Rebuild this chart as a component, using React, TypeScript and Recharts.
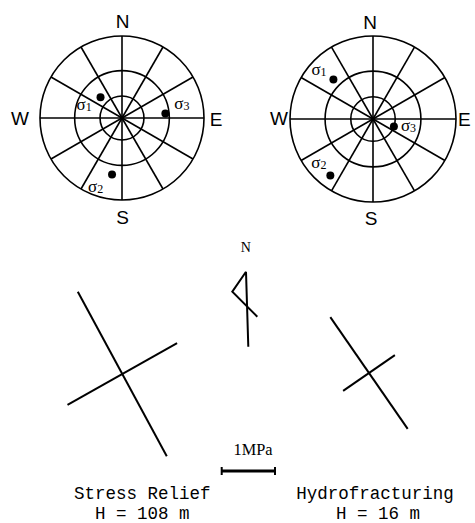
import { RadarChart, PolarGrid, PolarAngleAxis, PolarRadiusAxis, Radar, ScatterChart, Scatter, XAxis, YAxis } from "recharts";

// principal stress orientations (trend / plunge in degrees), order: sigma1, sigma2, sigma3
const SIGMA_NAMES = ["1", "2", "3"];
const RELIEF_TREND = [314, 190, 84];
const RELIEF_PLUNGE = [50, 20, 34];
const HYDRO_TREND = [315, 217, 110];
const HYDRO_PLUNGE = [22, 9, 60];

// horizontal stresses drawn below: azimuth (deg) and magnitude (MPa)
const RELIEF_AZ = [151.6, 60.6];
const RELIEF_MPA = [3.51, 2.36];
const HYDRO_AZ = [145.3, 55.4];
const HYDRO_MPA = [2.55, 1.18];

const SPOKES = [0, 30, 60, 90, 120, 150, 180, 210, 240, 270, 300, 330];
const RINGS = [30, 60, 90]; // angular distance from centre

const PX_PER_MPA = 53.3;
const BOTTOM_W = 475;
const BOTTOM_H = 293;

const rad = (d: number) => (d * Math.PI) / 180;
// wulff (stereographic) projection, 0..1 of net radius
const wulff = (plunge: number) => Math.tan(rad((90 - plunge) / 2));

function makeDot(offsets: number[][]) {
  return (props: any) => {
    const { cx, cy, index } = props;
    const [dx, dy] = offsets[index];
    return (
      <g key={`dot-${index}`}>
        <circle cx={cx} cy={cy} r={4} fill="#000" />
        <text x={cx + dx} y={cy + dy} fontFamily="Liberation Serif" fontSize={17} fill="#000">
          σ<tspan fontSize={12} dy={1}>{SIGMA_NAMES[index]}</tspan>
        </text>
      </g>
    );
  };
}

function Stereonet(p: any) {
  const data = p.trends.map((t: number, i: number) => ({ trend: t, r: wulff(p.plunges[i]) }));
  const rings = RINGS.map((d) => p.radius * Math.tan(rad(d / 2)));
  return (
    <div style={{ position: "absolute", left: p.left, top: p.top }}>
      <RadarChart
        width={p.width}
        height={p.height}
        data={data}
        cx={p.cx}
        cy={p.cy}
        innerRadius={0}
        outerRadius={p.radius}
        startAngle={90}
        endAngle={-270}
        margin={{ top: 0, right: 0, bottom: 0, left: 0 }}
      >
        <PolarGrid gridType="circle" polarAngles={SPOKES} polarRadius={rings} stroke="#000" strokeWidth={1.6} />
        <PolarAngleAxis type="number" dataKey="trend" domain={[0, 360]} tick={false} axisLine={false} tickLine={false} />
        <PolarRadiusAxis type="number" domain={[0, 1]} allowDataOverflow tick={false} axisLine={false} tickLine={false} />
        <Radar dataKey="r" stroke="none" fill="none" isAnimationActive={false} dot={makeDot(p.labelOffsets)} />
      </RadarChart>
    </div>
  );
}

// stress axes as line segments centred on a point (chart units = MPa)
function cross(cx: number, cy: number, az: number[], mpa: number[]) {
  return az.map((a, i) => {
    const h = mpa[i] / 2;
    const dx = Math.sin(rad(a)) * h;
    const dy = Math.cos(rad(a)) * h;
    return [
      { x: cx - dx, y: cy - dy },
      { x: cx + dx, y: cy + dy },
    ];
  });
}

const noShape = () => <g />;
const endTick = (props: any) => (
  <line x1={props.cx} x2={props.cx} y1={props.cy - 4} y2={props.cy + 4} stroke="#000" strokeWidth={2} />
);

export default function App() {
  const segs = [
    ...cross(122.3 / PX_PER_MPA, (523 - 374) / PX_PER_MPA, RELIEF_AZ, RELIEF_MPA),
    ...cross(369 / PX_PER_MPA, (523 - 373) / PX_PER_MPA, HYDRO_AZ, HYDRO_MPA),
  ];
  const barX = 221.7 / PX_PER_MPA;
  const barY = (523 - 471) / PX_PER_MPA;
  const scaleBar = [
    { x: barX, y: barY },
    { x: barX + 1, y: barY },
  ];

  const sans = "Liberation Sans";
  const mono = "Liberation Mono";

  return (
    <div style={{ position: "absolute", left: 0, top: 0, width: 475, height: 523, background: "#fff" }}>
      <Stereonet
        left={0}
        top={0}
        width={237}
        height={235}
        cx={122}
        cy={118}
        radius={82}
        trends={RELIEF_TREND}
        plunges={RELIEF_PLUNGE}
        labelOffsets={[
          [-24, 13],
          [-24, 17],
          [9, -4],
        ]}
      />
      <Stereonet
        left={237}
        top={0}
        width={238}
        height={235}
        cx={136}
        cy={119}
        radius={83}
        trends={HYDRO_TREND}
        plunges={HYDRO_PLUNGE}
        labelOffsets={[
          [-22, -4],
          [-19, -8],
          [7, 4],
        ]}
      />
      <div style={{ position: "absolute", left: 0, top: 523 - BOTTOM_H }}>
        <ScatterChart width={BOTTOM_W} height={BOTTOM_H} margin={{ top: 0, right: 0, bottom: 0, left: 0 }}>
          <XAxis type="number" dataKey="x" domain={[0, BOTTOM_W / PX_PER_MPA]} allowDataOverflow hide />
          <YAxis type="number" dataKey="y" domain={[0, BOTTOM_H / PX_PER_MPA]} allowDataOverflow hide />
          {segs.map((s, i) => (
            <Scatter key={i} data={s} line={{ stroke: "#000", strokeWidth: 2 }} shape={noShape} isAnimationActive={false} />
          ))}
          <Scatter data={scaleBar} line={{ stroke: "#000", strokeWidth: 3 }} shape={endTick} isAnimationActive={false} />
        </ScatterChart>
      </div>
      <svg width={475} height={523} style={{ position: "absolute", left: 0, top: 0, pointerEvents: "none" }}>
        <g fontFamily={sans} fontSize={19} textAnchor="middle" fill="#000">
          <text x={122.7} y={27.5}>N</text>
          <text x={20} y={125}>W</text>
          <text x={216} y={126}>E</text>
          <text x={122.7} y={224}>S</text>
          <text x={370} y={28.5}>N</text>
          <text x={279} y={125}>W</text>
          <text x={464.3} y={126}>E</text>
          <text x={371} y={225}>S</text>
        </g>
        <text x={245.7} y={252.3} fontFamily="Liberation Serif" fontSize={14} textAnchor="middle">
          N
        </text>
        <path d="M246,271.7 L248.3,346.7 M246,271.7 L232.3,291.7 L257.3,316.7" stroke="#000" strokeWidth={2} fill="none" />
        <text x={253} y={455} fontFamily="Liberation Serif" fontSize={17} textAnchor="middle" textLength={39} lengthAdjust="spacingAndGlyphs">
          1MPa
        </text>
        <g fontFamily={mono} fontSize={17.5} textAnchor="middle" fill="#000">
          <text x={142.3} y={498.5}>Stress Relief</text>
          <text x={142.3} y={518.5}>H = 108 m</text>
          <text x={375} y={498.5}>Hydrofracturing</text>
          <text x={378} y={518.5}>H = 16 m</text>
        </g>
      </svg>
    </div>
  );
}
